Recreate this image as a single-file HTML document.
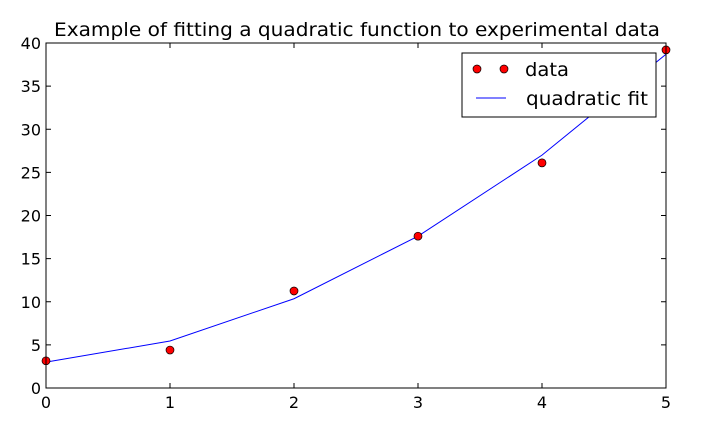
<!DOCTYPE html>
<html><head><meta charset="utf-8"><style>
body{margin:0;background:#fff;}
svg text{font-family:"DejaVu Sans","Liberation Sans",sans-serif;}
</style></head><body>
<svg id="chart" width="711" height="431" xmlns="http://www.w3.org/2000/svg">
<rect width="711" height="431" fill="#fff"/>
<text x="54" y="36" font-size="19" textLength="606" lengthAdjust="spacingAndGlyphs">Example of fitting a quadratic function to experimental data</text>
<g id="ticks"></g>
<g id="series"></g>
<rect x="46" y="43" width="620" height="345" fill="none" stroke="#000" stroke-width="1"/>
<g>
<rect x="462" y="53" width="194" height="64" fill="#fff" stroke="#000" stroke-width="1"/>
<circle cx="477" cy="69" r="4" fill="#f00" stroke="#000" stroke-width="0.7"/>
<circle cx="504" cy="69" r="4" fill="#f00" stroke="#000" stroke-width="0.7"/>
<text x="525" y="76" font-size="19" textLength="44" lengthAdjust="spacingAndGlyphs">data</text>
<line x1="476" y1="98" x2="506" y2="98" stroke="#00f" stroke-width="1"/>
<text x="526" y="105" font-size="19" textLength="122" lengthAdjust="spacingAndGlyphs">quadratic fit</text>
</g>
</svg>
<script>
const xData=[0,1,2,3,4,5];
const yData=[3.15,4.4,11.25,17.6,26.1,39.2];
const xFit=[0,1,2,3,4,5];
const yFit=[3.0,5.45,10.35,17.6,27.0,38.7];
const xTicks=[0,1,2,3,4,5];
const yTicks=[0,5,10,15,20,25,30,35,40];
const NS="http://www.w3.org/2000/svg";
const L=46,R=666,T=43,B=388;
const sx=v=>L+(v-0)/5*(R-L);
const sy=v=>B-(v-0)/40*(B-T);
function mk(tag,attrs,parent){const e=document.createElementNS(NS,tag);for(const k in attrs)e.setAttribute(k,attrs[k]);parent.appendChild(e);return e;}
const tg=document.getElementById('ticks');
xTicks.forEach(v=>{const x=sx(v);
mk('line',{x1:x,y1:B,x2:x,y2:B-5,stroke:'#000'},tg);
mk('line',{x1:x,y1:T,x2:x,y2:T+5,stroke:'#000'},tg);
const t=mk('text',{x:x,y:B+20,'font-size':16,'text-anchor':'middle'},tg);t.textContent=v;

});
yTicks.forEach(v=>{const y=sy(v);
mk('line',{x1:L,y1:y,x2:L+5,y2:y,stroke:'#000'},tg);
mk('line',{x1:R,y1:y,x2:R-5,y2:y,stroke:'#000'},tg);
const t=mk('text',{x:L-5,y:y+6,'font-size':16,'text-anchor':'end'},tg);t.textContent=v;

});
const sg=document.getElementById('series');
const line=mk('polyline',{points:xFit.map((x,i)=>sx(x)+','+sy(yFit[i])).join(' '),fill:'none',stroke:'#00f','stroke-width':1},sg);


xData.forEach((x,i)=>{const c=mk('circle',{cx:sx(x),cy:sy(yData[i]),r:4,fill:'#f00',stroke:'#000','stroke-width':0.7},sg);

});
</script>
</body></html>
